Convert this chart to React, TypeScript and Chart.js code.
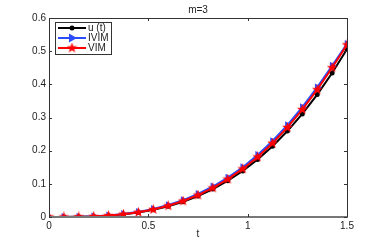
import React, { useEffect, useRef } from "react";
import { Chart, registerables } from "chart.js";

Chart.register(...registerables);

const tValues = [0, 0.075, 0.15, 0.225, 0.3, 0.375, 0.45, 0.525, 0.6, 0.675, 0.75, 0.825, 0.9, 0.975, 1.05, 1.125, 1.2, 1.275, 1.35, 1.425, 1.5];
const exactU = [0, 0.0001, 0.0005, 0.0017, 0.0041, 0.0079, 0.0137, 0.0217, 0.0324, 0.0461, 0.0633, 0.0842, 0.1094, 0.139, 0.1736, 0.2136, 0.2592, 0.3109, 0.369, 0.434, 0.506];
const ivimU = [0, 0.0001, 0.0006, 0.002, 0.0047, 0.009, 0.0155, 0.0243, 0.036, 0.051, 0.0695, 0.092, 0.119, 0.15, 0.187, 0.229, 0.277, 0.331, 0.391, 0.456, 0.522];
const vimU = [0, 0.0001, 0.0005, 0.0018, 0.0043, 0.0083, 0.0143, 0.0227, 0.0338, 0.0481, 0.066, 0.0878, 0.114, 0.145, 0.181, 0.2225, 0.27, 0.324, 0.384, 0.45, 0.519];
const yTicks = [0, 0.1, 0.2, 0.3, 0.4, 0.5, 0.6];
const xTicks = [0, 0.5, 1, 1.5];
const seriesNames = ["u (t)", "IVIM", "VIM"];
const titleText = "m=3";
const xLabel = "t";

const FAMILY = "'Liberation Sans', Arial, sans-serif";
const FONT = "10px " + FAMILY;

function makeStar(size: number, color: string): HTMLCanvasElement {
  const c = document.createElement("canvas");
  c.width = size;
  c.height = size;
  const ctx = c.getContext("2d")!;
  const cx = size / 2, cy = size / 2;
  const R = size / 2, r = R * 0.42;
  ctx.beginPath();
  for (let i = 0; i < 10; i++) {
    const a = -Math.PI / 2 + (i * Math.PI) / 5;
    const rad = i % 2 === 0 ? R : r;
    const x = cx + rad * Math.cos(a);
    const y = cy + rad * Math.sin(a);
    if (i === 0) ctx.moveTo(x, y);
    else ctx.lineTo(x, y);
  }
  ctx.closePath();
  ctx.fillStyle = color;
  ctx.fill();
  return c;
}

export default function App() {
  const ref = useRef<HTMLCanvasElement>(null);

  useEffect(() => {
    const canvas = ref.current!;
    const star = makeStar(11, "#ff0000");
    const colors = ["#000000", "#2b4cff", "#ff0000"];

    const frame = {
      id: "frame",
      afterDatasetsDraw(chart: any) {
        const { ctx, chartArea: a, scales } = chart;
        ctx.save();
        ctx.strokeStyle = "#333";
        ctx.lineWidth = 1;
        ctx.beginPath();
        ctx.moveTo(a.left + 0.5, a.bottom);
        ctx.lineTo(a.left + 0.5, a.top + 0.5);
        ctx.lineTo(a.right + 0.5, a.top + 0.5);
        ctx.lineTo(a.right + 0.5, a.bottom);
        ctx.stroke();
        ctx.strokeStyle = "#777";
        ctx.lineWidth = 2;
        ctx.beginPath();
        ctx.moveTo(a.left, a.bottom);
        ctx.lineTo(a.right + 1, a.bottom);
        ctx.stroke();
        ctx.strokeStyle = "#333";
        ctx.lineWidth = 1;
        ctx.beginPath();
        for (const v of xTicks) {
          const x = Math.round(scales.x.getPixelForValue(v)) + 0.5;
          ctx.moveTo(x, a.bottom);
          ctx.lineTo(x, a.bottom - 3);
          ctx.moveTo(x, a.top);
          ctx.lineTo(x, a.top + 3);
        }
        for (const v of yTicks) {
          const y = Math.round(scales.y.getPixelForValue(v)) + 0.5;
          ctx.moveTo(a.left, y);
          ctx.lineTo(a.left + 3, y);
          ctx.moveTo(a.right, y);
          ctx.lineTo(a.right - 3, y);
        }
        ctx.stroke();

        ctx.fillStyle = "#222";
        ctx.font = FONT;
        ctx.textAlign = "center";
        ctx.textBaseline = "middle";
        const cx = (a.left + a.right) / 2;
        ctx.fillText(titleText, cx, 10);
        ctx.fillText(xLabel, cx, 234);

        const lx = 55, ly = 22, lw = 56, lh = 32;
        ctx.fillStyle = "#fff";
        ctx.fillRect(lx, ly, lw, lh);
        ctx.strokeStyle = "#333";
        ctx.lineWidth = 1;
        ctx.strokeRect(lx + 0.5, ly + 0.5, lw, lh);
        for (let i = 0; i < 3; i++) {
          const y = ly + 6 + i * 10;
          ctx.strokeStyle = colors[i];
          ctx.lineWidth = 2;
          ctx.beginPath();
          ctx.moveTo(lx + 3, y);
          ctx.lineTo(lx + 31, y);
          ctx.stroke();
          const mx = lx + 17;
          ctx.fillStyle = colors[i];
          if (i === 0) {
            ctx.beginPath();
            ctx.arc(mx, y, 2.5, 0, Math.PI * 2);
            ctx.fill();
          } else if (i === 1) {
            ctx.beginPath();
            ctx.moveTo(mx + 5, y);
            ctx.lineTo(mx - 3, y - 4.5);
            ctx.lineTo(mx - 3, y + 4.5);
            ctx.closePath();
            ctx.fill();
          } else {
            ctx.drawImage(star, mx - 5.5, y - 5.5);
          }
          ctx.fillStyle = "#222";
          ctx.textAlign = "left";
          ctx.textBaseline = "middle";
          ctx.fillText(seriesNames[i], lx + 33, y);
        }
        ctx.restore();
      },
    };

    const mk = (vals: number[]) => vals.map((v, i) => ({ x: tValues[i], y: v }));

    const chart = new Chart(canvas, {
      type: "line",
      data: {
        datasets: [
          {
            label: seriesNames[0],
            data: mk(exactU),
            borderColor: colors[0],
            backgroundColor: colors[0],
            borderWidth: 2,
            pointStyle: "circle",
            pointRadius: 2.5,
            pointBorderWidth: 0,
            order: 2,
          },
          {
            label: seriesNames[1],
            data: mk(ivimU),
            borderColor: colors[1],
            backgroundColor: colors[1],
            borderWidth: 2,
            pointStyle: "triangle",
            rotation: 90,
            pointRadius: 4.5,
            pointBorderWidth: 0,
            order: 1,
          },
          {
            label: seriesNames[2],
            data: mk(vimU),
            borderColor: colors[2],
            backgroundColor: colors[2],
            borderWidth: 2,
            pointStyle: star as any,
            pointRadius: 5,
            order: 0,
          },
        ] as any,
      },
      options: {
        responsive: false,
        animation: false,
        layout: { padding: { top: 18, right: 35, bottom: 0, left: 0 } },
        plugins: {
          legend: { display: false },
          tooltip: { enabled: false },
          title: { display: false },
        },
        scales: {
          x: {
            type: "linear",
            min: 0,
            max: 1.5,
            grid: { display: false, drawTicks: false },
            border: { display: false },
            afterFit: (s: any) => {
              s.height = 28;
            },
            afterBuildTicks: (s: any) => {
              s.ticks = xTicks.map((v) => ({ value: v }));
            },
            ticks: {
              color: "#222",
              font: { family: FAMILY, size: 10 },
              padding: 3,
              maxRotation: 0,
              callback: (v: any) => String(v),
            },
          },
          y: {
            type: "linear",
            min: 0,
            max: 0.6,
            grid: { display: false, drawTicks: false },
            border: { display: false },
            afterFit: (s: any) => {
              s.width = 49;
            },
            afterBuildTicks: (s: any) => {
              s.ticks = yTicks.map((v) => ({ value: v }));
            },
            ticks: {
              color: "#222",
              font: { family: FAMILY, size: 10 },
              padding: 3,
              callback: (v: any) => String(Math.round(v * 10) / 10),
            },
          },
        },
      },
      plugins: [frame],
    });
    return () => chart.destroy();
  }, []);

  return (
    <div style={{ position: "absolute", left: 0, top: 0, width: 382, height: 245, background: "#fff" }}>
      <canvas ref={ref} width={382} height={245} style={{ width: 382, height: 245 }} />
    </div>
  );
}
